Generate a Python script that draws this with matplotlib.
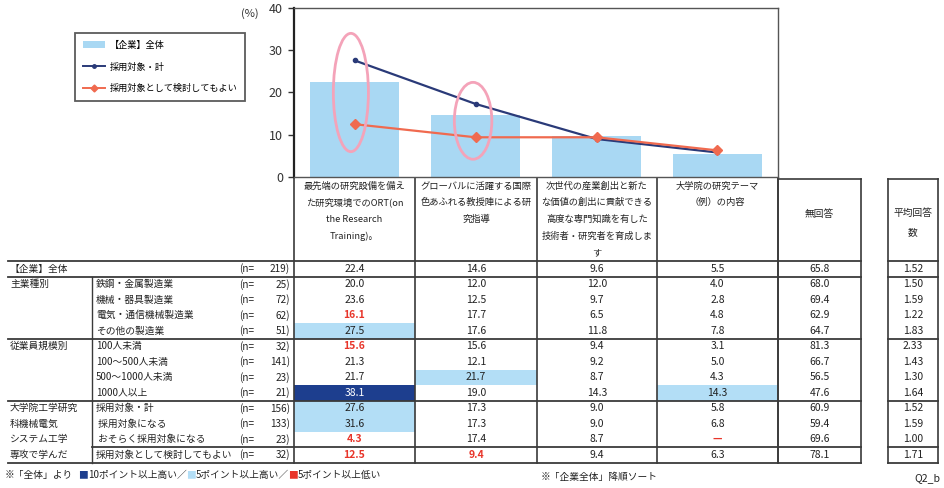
import matplotlib
matplotlib.use("Agg")
import matplotlib.pyplot as plt
from matplotlib.patches import Ellipse, Rectangle, Patch
from matplotlib.lines import Line2D

plt.rcParams['font.family'] = ['Noto Sans CJK JP', 'DejaVu Sans']

# ---- survey items (column headers) ----
items = [
    "最先端の研究設備を備え\nた研究環境でのORT(on\nthe Research\nTraining)。",
    "グローバルに活躍する国際\n色あふれる教授陣による研\n究指導",
    "次世代の産業創出と新た\nな価値の創出に貢献できる\n高度な専門知識を有した\n技術者・研究者を育成しま\nす",
    "大学院の研究テーマ\n（例）の内容",
]
no_answer_label = "無回答"
avg_label = "平均回答\n数"

# ---- respondent breakdown (rows) ----
group_labels = ["【企業】全体", "主業種別", "", "", "", "従業員規模別", "", "", "",
                "大学院工学研究", "科機械電気", "システム工学", "専攻で学んだ"]
segment_labels = ["", "鉄鋼・金属製造業", "機械・器具製造業", "電気・通信機械製造業",
                  "その他の製造業", "100人未満", "100～500人未満", "500～1000人未満",
                  "1000人以上", "採用対象・計", " 採用対象になる", " おそらく採用対象になる",
                  "採用対象として検討してもよい"]
n_sizes = [219, 25, 72, 62, 51, 32, 141, 23, 21, 156, 133, 23, 32]

# ---- percentages per item ----
ort_training = [22.4, 20.0, 23.6, 16.1, 27.5, 15.6, 21.3, 21.7, 38.1, 27.6, 31.6, 4.3, 12.5]
global_faculty = [14.6, 12.0, 12.5, 17.7, 17.6, 15.6, 12.1, 21.7, 19.0, 17.3, 17.3, 17.4, 9.4]
expert_training = [9.6, 12.0, 9.7, 6.5, 11.8, 9.4, 9.2, 8.7, 14.3, 9.0, 9.0, 8.7, 9.4]
research_theme = [5.5, 4.0, 2.8, 4.8, 7.8, 3.1, 5.0, 4.3, 14.3, 5.8, 6.8, None, 6.3]
no_answer = [65.8, 68.0, 69.4, 62.9, 64.7, 81.3, 66.7, 56.5, 47.6, 60.9, 59.4, 69.6, 78.1]
avg_answers = [1.52, 1.50, 1.59, 1.22, 1.83, 2.33, 1.43, 1.30, 1.64, 1.52, 1.59, 1.00, 1.71]

item_values = [ort_training, global_faculty, expert_training, research_theme]
ROW_ALL, ROW_RECRUIT, ROW_CONSIDER = 0, 9, 12

series_labels = ["【企業】全体", "採用対象・計", "採用対象として検討してもよい"]

# ---- colours ----
BAR_C = "#a9d8f3"
BLUE_C = "#2a3a78"
RED_C = "#f06a4f"
HI_DARK = "#1d3e8e"
HI_LIGHT = "#b3def6"
LOW_TXT = "#e8352a"
GRID_C = "#3a3a3a"

W, H = 944, 488
fig = plt.figure(figsize=(W / 100, H / 100), dpi=100)

# ---- chart area ----
ax_l, ax_t, ax_r, ax_b = 294, 8, 778, 177
ax = fig.add_axes([ax_l / W, 1 - ax_b / H, (ax_r - ax_l) / W, (ax_b - ax_t) / H])
xs = list(range(len(items)))
bars_vals = [v[ROW_ALL] for v in item_values]
recruit_vals = [v[ROW_RECRUIT] for v in item_values]
consider_vals = [v[ROW_CONSIDER] for v in item_values]

ax.bar(xs, bars_vals, width=0.73, color=BAR_C, zorder=1)
ax.plot(xs, recruit_vals, color=BLUE_C, lw=1.6, marker="o", ms=3, zorder=3)
ax.plot(xs, consider_vals, color=RED_C, lw=1.6, marker="D", ms=5, zorder=3)

# highlight rings around the first two items
for cx, cy, ew, eh in [(-0.03, 20.0, 0.29, 28.0), (0.98, 13.3, 0.31, 18.2)]:
    ax.add_patch(Ellipse((cx, cy), ew, eh, fill=False,
                         edgecolor="#f4a3b9", lw=2.0, zorder=4))

ax.set_xlim(-0.5, len(items) - 0.5)
ax.set_ylim(0, 40)
ax.set_yticks([0, 10, 20, 30, 40])
ax.set_xticks([])
ax.tick_params(axis="y", direction="out", length=4, width=1, labelsize=9,
               colors="#333333", pad=4)
ax.spines["left"].set_color("#222222")
ax.spines["left"].set_linewidth(1.6)
for s in ["top", "right", "bottom"]:
    ax.spines[s].set_color("#555555")
    ax.spines[s].set_linewidth(1.0)

handles = [Patch(facecolor=BAR_C, edgecolor="none"),
           Line2D([], [], color=BLUE_C, lw=1.4, marker="o", ms=2.5),
           Line2D([], [], color=RED_C, lw=1.4, marker="D", ms=3.5)]
leg = fig.legend(handles, series_labels, loc="upper left",
                 bbox_to_anchor=(70 / W, 1 - 28 / H), fontsize=6.6, frameon=True,
                 fancybox=False, handlelength=2.4, labelspacing=1.35,
                 borderpad=0.9, handletextpad=0.5)
leg.get_frame().set_edgecolor("#333333")
leg.get_frame().set_linewidth(1.3)

# ---- table overlay in pixel coordinates ----
tb = fig.add_axes([0, 0, 1, 1], zorder=-1)
tb.set_xlim(0, W)
tb.set_ylim(H, 0)
tb.axis("off")

tb.text(250, 14, "(%)", fontsize=8, ha="center", va="center", color="#333333")

col_edges = [294, 415, 537, 657, 778]
na_box = (778, 861)
avg_box = (888, 938)
row_top = 261
row_h = 15.5
n_rows = len(n_sizes)
row_bottom = row_top + row_h * n_rows
head_top = 177


def ry(i):
    return row_top + row_h * (i + 0.5)


# header text
for k, lab in enumerate(items):
    cx = (col_edges[k] + col_edges[k + 1]) / 2
    for j, line in enumerate(lab.split("\n")):
        tb.text(cx, 186 + 16.8 * j, line, fontsize=6.7, ha="center", va="center",
                color="#222222")
tb.text(sum(na_box) / 2, 214, no_answer_label, fontsize=7, ha="center", va="center",
        color="#222222")
for j, line in enumerate(avg_label.split("\n")):
    tb.text(sum(avg_box) / 2, 213 + 19 * j, line, fontsize=7, ha="center",
            va="center", color="#222222")

# highlighted cells and numbers
for k, vals in enumerate(item_values):
    base = vals[ROW_ALL]
    x0, x1 = col_edges[k], col_edges[k + 1]
    cx = (x0 + x1) / 2
    for i, v in enumerate(vals):
        num = 0.0 if v is None else v
        diff = num - base
        txt_c = "#222222"
        if i != ROW_ALL:
            if diff >= 10:
                tb.add_patch(Rectangle((x0, row_top + row_h * i), x1 - x0, row_h,
                                       facecolor=HI_DARK, edgecolor="none"))
                txt_c = "white"
            elif diff >= 5:
                tb.add_patch(Rectangle((x0, row_top + row_h * i), x1 - x0, row_h,
                                       facecolor=HI_LIGHT, edgecolor="none"))
            elif diff <= -5:
                txt_c = LOW_TXT
        label = "—" if v is None else f"{v:.1f}"
        tb.text(cx, ry(i), label, fontsize=7.5, ha="center", va="center", color=txt_c,
                fontweight="bold" if txt_c == LOW_TXT else "normal")

for i, v in enumerate(no_answer):
    tb.text(sum(na_box) / 2, ry(i), f"{v:.1f}", fontsize=7.5, ha="center", va="center",
            color="#222222")
for i, v in enumerate(avg_answers):
    tb.text(sum(avg_box) / 2, ry(i), f"{v:.2f}", fontsize=7.5, ha="center", va="center",
            color="#222222")

# row labels
for i in range(n_rows):
    if group_labels[i]:
        tb.text(10, ry(i), group_labels[i], fontsize=7, ha="left", va="center",
                color="#222222")
    if segment_labels[i]:
        tb.text(96, ry(i), segment_labels[i], fontsize=7, ha="left", va="center",
                color="#222222")
    tb.text(239, ry(i), "(n=", fontsize=7.2, ha="left", va="center", color="#222222")
    tb.text(290, ry(i), f"{n_sizes[i]})", fontsize=7.2, ha="right", va="center",
            color="#222222")

# grid lines
lw_major = 1.3
for x in col_edges:
    tb.plot([x, x], [head_top, row_bottom], color=GRID_C, lw=1.2)
tb.plot([na_box[0], na_box[0]], [head_top, row_bottom], color=GRID_C, lw=1.2)
tb.plot([na_box[1], na_box[1]], [179, row_bottom], color=GRID_C, lw=1.2)
tb.plot([na_box[0], na_box[1]], [179, 179], color=GRID_C, lw=1.2)
tb.plot([92, 92], [row_top + row_h, row_bottom], color=GRID_C, lw=1.0)
for x in avg_box:
    tb.plot([x, x], [179, row_bottom], color=GRID_C, lw=1.2)
tb.plot(list(avg_box), [179, 179], color=GRID_C, lw=1.2)

for y, xa in [(row_top, 8), (row_top + row_h, 8), (row_top + row_h * 5, 8),
              (row_top + row_h * 9, 8), (row_top + row_h * 12, 92), (row_bottom, 8)]:
    tb.plot([xa, na_box[1]], [y, y], color=GRID_C, lw=lw_major)
    tb.plot(list(avg_box), [y, y], color=GRID_C, lw=lw_major)

# footnotes
fy = 475
tb.text(5, fy, "※「全体」より", fontsize=7, ha="left", va="center", color="#222222")
tb.text(78, fy, "■", fontsize=7, ha="left", va="center", color=HI_DARK)
tb.text(88, fy, "10ポイント以上高い／", fontsize=7, ha="left", va="center", color="#222222")
tb.text(186, fy, "■", fontsize=7, ha="left", va="center", color=HI_LIGHT)
tb.text(196, fy, "5ポイント以上高い／", fontsize=7, ha="left", va="center", color="#222222")
tb.text(288, fy, "■", fontsize=7, ha="left", va="center", color=LOW_TXT)
tb.text(298, fy, "5ポイント以上低い", fontsize=7, ha="left", va="center", color="#222222")
tb.text(541, fy + 2, "※「企業全体」降順ソート", fontsize=7, ha="left", va="center",
        color="#222222")
tb.text(940, fy + 3, "Q2_b", fontsize=7.5, ha="right", va="center", color="#222222")

fig.savefig("out.png", dpi=100)
